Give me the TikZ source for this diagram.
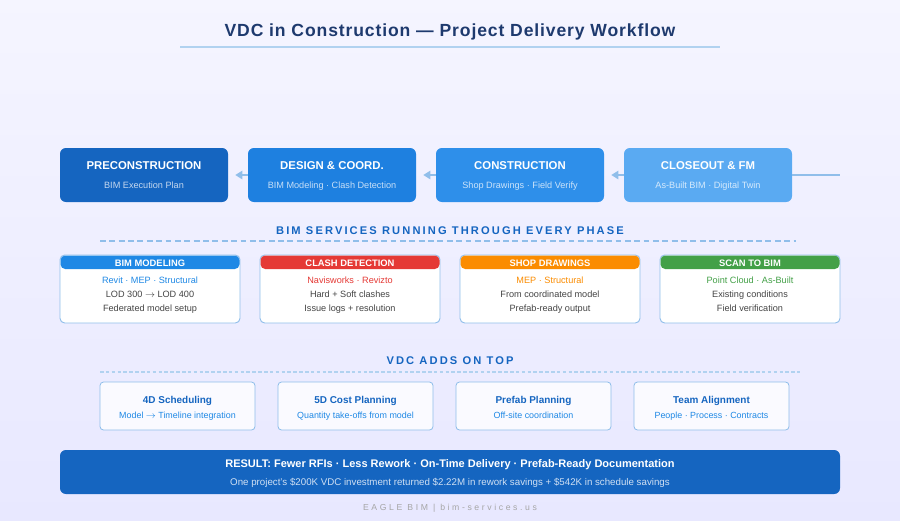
\documentclass[tikz,border=0pt]{standalone}
\usepackage{fontspec}
\setmainfont{Liberation Sans}
\usetikzlibrary{arrows.meta}
\definecolor{navy}{HTML}{1E3A6E}
\definecolor{bimblue}{HTML}{1565C0}
\definecolor{paleline}{HTML}{90BEEA}
\definecolor{phA}{HTML}{1565C0}
\definecolor{phB}{HTML}{1E80E0}
\definecolor{phC}{HTML}{2E8FEA}
\definecolor{phD}{HTML}{5AAAF2}
\definecolor{cBlue}{HTML}{1E88E5}
\definecolor{cRed}{HTML}{E53935}
\definecolor{cOrange}{HTML}{FB8C00}
\definecolor{cGreen}{HTML}{43A047}
\definecolor{bodygray}{HTML}{444444}
\tikzset{
  phase/.style={rounded corners=5pt,fill=#1,minimum width=168*0.03cm,minimum height=54*0.03cm,inner sep=0pt},
  card/.style={rounded corners=4pt,draw=paleline,line width=0.8pt,fill=white},
  vdccard/.style={rounded corners=3pt,draw=paleline,line width=0.7pt,fill=blue!2},
  link/.style={paleline,line width=2pt},
  txt/.style={text height=1.6ex,text depth=0.4ex,inner sep=0pt},
}
\newcommand\spaced[2][19]{{\addfontfeatures{LetterSpace=#1}#2}}
\begin{document}
\begin{tikzpicture}[x=0.03cm,y=-0.03cm]
\fill[top color=blue!4,bottom color=blue!9] (0,0) rectangle (900,520);
\useasboundingbox (0,0) rectangle (900,520);

% title
\node[navy,font=\bfseries\fontsize{15}{17}\selectfont] (title) at (450,32) {\addfontfeatures{LetterSpace=5}VDC in Construction — Project Delivery Workflow};
\draw[paleline!70,line width=1pt] (180,47) -- (720,47);

% phases
\coordinate (tail) at (840,175);
\foreach \n/\x/\c/\t/\s in {p1/144/phA/PRECONSTRUCTION/BIM Execution Plan,
  p2/332/phB/DESIGN \& COORD./BIM Modeling · Clash Detection,
  p3/520/phC/CONSTRUCTION/Shop Drawings · Field Verify,
  p4/708/phD/CLOSEOUT \& FM/As-Built BIM · Digital Twin}{
  \node[phase=\c] (\n) at (\x,175) {};
  \node[white,txt,font=\bfseries\fontsize{9.7}{11}\selectfont] at (\x,166) {\t};
  \node[white!75!\c,txt,font=\fontsize{7.8}{9}\selectfont] at (\x,185) {\s};
}
\foreach \a/\b in {p1/p2,p2/p3,p3/p4}
  \draw[link,{Triangle[width=7pt,length=6pt]}-,shorten <=7*0.03cm] (\a.east) -- (\b.west);
\draw[link] (p4.east) -- (tail);

% BIM services
\node[bimblue,font=\bfseries\fontsize{9.5}{11}\selectfont] (bimhead) at (450,231) {\spaced{BIM SERVICES RUNNING THROUGH EVERY PHASE}};
\draw[paleline,line width=1.2pt,dash pattern=on 5pt off 3pt] (100,241) -- (796,241);
\foreach \n/\x/\c/\t/\a/\b/\d in {s1/150/cBlue/BIM MODELING/Revit · MEP · Structural/LOD 300 $\rightarrow$ LOD 400/Federated model setup,
  s2/350/cRed/CLASH DETECTION/Navisworks · Revizto/Hard + Soft clashes/Issue logs + resolution,
  s3/550/cOrange/SHOP DRAWINGS/MEP · Structural/From coordinated model/Prefab-ready output,
  s4/750/cGreen/SCAN TO BIM/Point Cloud · As-Built/Existing conditions/Field verification}{
  \draw[card] (\x-90,255) rectangle (\x+90,323);
  \fill[\c,rounded corners=4pt] (\x-89.5,255.5) -- (\x-89.5,269) -- (\x+89.5,269) -- (\x+89.5,255.5) -- cycle;
  \node[white,txt,font=\bfseries\fontsize{8}{9}\selectfont] (\n) at (\x,262.5) {\t};
  \node[\c,txt,font=\fontsize{7.8}{9}\selectfont] at (\x,280) {\a};
  \node[bodygray,txt,font=\fontsize{7.8}{9}\selectfont] at (\x,294) {\b};
  \node[bodygray,txt,font=\fontsize{7.8}{9}\selectfont] at (\x,308) {\d};
}

% VDC adds
\node[bimblue,font=\bfseries\fontsize{9.5}{11}\selectfont] (vdchead) at (450,361) {\spaced{VDC ADDS ON TOP}};
\draw[paleline!70,line width=1pt,dash pattern=on 3pt off 2pt] (100,372) -- (800,372);
\foreach \n/\x/\t/\s in {v1/177.5/4D Scheduling/Model $\rightarrow$ Timeline integration,
  v2/355.5/5D Cost Planning/Quantity take-offs from model,
  v3/533.5/Prefab Planning/Off-site coordination,
  v4/711.5/Team Alignment/People · Process · Contracts}{
  \draw[vdccard] (\x-77.5,382) rectangle (\x+77.5,430);
  \node[bimblue,txt,font=\bfseries\fontsize{8.5}{10}\selectfont] (\n) at (\x,399.5) {\t};
  \node[cBlue,txt,font=\fontsize{7.6}{9}\selectfont] at (\x,414.5) {\s};
}

% result
\fill[bimblue,rounded corners=5pt] (60,450) rectangle (840,494);
\node[white,txt,font=\bfseries\fontsize{9.4}{11}\selectfont] (result) at (450,464) {RESULT: Fewer RFIs · Less Rework · On-Time Delivery · Prefab-Ready Documentation};
\node[white!80!bimblue,txt,font=\fontsize{8.3}{10}\selectfont] (roi) at (450,481.5) {One project's \$200K VDC investment returned \$2.22M in rework savings + \$542K in schedule savings};

\node[gray!70,font=\fontsize{7.4}{8}\selectfont] (footer) at (450,508.5) {\spaced[30]{EAGLE BIM | bim-services.us}};
\end{tikzpicture}
\end{document}
